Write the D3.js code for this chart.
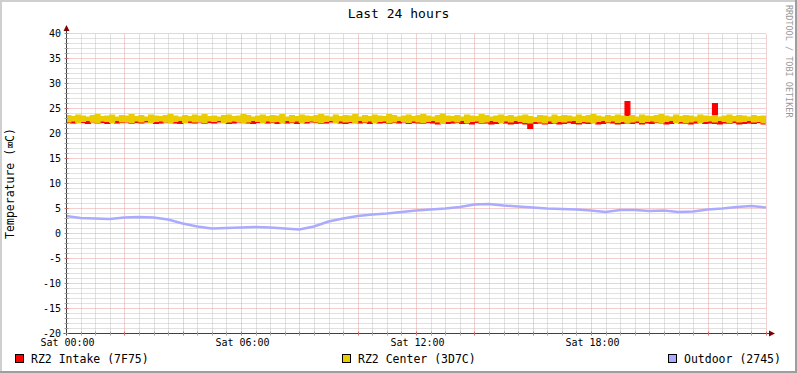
<!DOCTYPE html>
<html>
<head>
<meta charset="utf-8">
<script src="https://cdn.jsdelivr.net/npm/d3@7"></script>
<style>
  body { margin: 0; background: #fff; }
  svg { display: block; font-family: "DejaVu Sans Mono", monospace; }
</style>
</head>
<body>
<div id="chart"></div>
<script>
// min / max of the readings in each 10 minute bucket, Sat 00:00 .. Sun 00:00
const intakeLo = [
  22.2,22.1,22.3,22.2,22.0,22.3,22.1,22.2,22.0,22.3,
  22.1,22.2,22.3,22.0,22.2,22.1,22.3,22.2,22.0,22.1,
  22.3,22.2,22.1,22.0,22.3,22.2,22.1,22.3,22.0,22.2,
  22.1,22.3,22.2,22.0,22.1,22.3,22.2,22.1,22.0,22.2,
  22.3,22.1,22.2,22.0,22.3,22.1,22.2,22.0,22.2,22.1,
  22.3,22.2,22.0,22.1,22.3,22.2,22.1,22.0,22.2,22.3,
  22.1,22.2,22.0,22.3,22.1,22.2,22.0,22.2,22.1,22.3,
  22.0,22.2,22.1,22.0,22.2,22.1,21.9,22.2,22.0,22.1,
  22.2,22.0,22.1,21.9,22.2,22.0,22.1,21.9,22.0,22.2,
  22.1,21.9,22.0,22.1,21.9,21.0,22.0,22.1,21.9,22.0,
  22.1,21.9,22.0,22.2,22.0,21.9,22.1,22.0,22.2,21.9,
  22.0,22.2,22.1,21.9,22.0,22.1,22.0,22.2,21.9,22.1,
  22.0,22.2,22.1,21.9,22.0,22.2,22.1,22.0,21.9,22.1,
  22.2,22.0,22.1,22.0,21.9,22.1,22.0,22.2,21.9,22.0,
  22.1,22.0,22.2,21.9,22.0
];
const intakeHi = [
  22.9,23.0,22.8,23.1,22.9,22.7,23.0,22.8,23.1,22.9,
  23.0,22.8,22.9,23.1,22.7,23.0,22.9,22.8,23.1,23.0,
  22.8,22.9,23.0,23.1,22.8,22.9,22.7,23.0,23.1,22.8,
  23.0,22.9,22.8,23.1,23.0,22.7,22.9,23.0,22.8,23.1,
  22.9,23.0,22.8,23.1,22.9,22.7,23.0,22.8,23.1,22.9,
  22.8,23.0,22.9,23.1,22.7,23.0,22.8,22.9,23.1,23.0,
  22.9,22.8,23.0,23.1,22.9,22.7,23.0,22.8,22.9,23.1,
  22.8,23.0,22.9,22.7,23.0,22.8,23.1,22.9,22.8,23.0,
  22.9,22.7,23.0,22.8,22.9,23.1,22.8,23.0,22.9,22.7,
  23.0,22.8,22.9,23.0,22.8,22.9,23.0,22.7,22.9,23.1,
  22.8,23.0,22.9,22.7,23.0,22.8,22.9,23.1,22.8,23.0,
  22.9,23.0,22.8,23.0,22.9,26.4,22.8,23.0,22.9,22.7,
  23.0,22.8,22.9,23.1,22.8,23.0,22.9,22.8,23.0,22.9,
  22.8,23.0,22.9,26.0,22.8,23.0,22.9,22.7,23.0,22.8,
  22.9,23.0,22.8,22.9,22.7
];
const centerLo = [
  22.3,22.5,22.2,22.4,22.6,22.3,22.1,22.5,22.4,22.2,
  22.6,22.3,22.4,22.1,22.5,22.3,22.6,22.2,22.4,22.5,
  22.3,22.1,22.4,22.6,22.2,22.5,22.3,22.4,22.1,22.5,
  22.4,22.6,22.2,22.3,22.5,22.4,22.1,22.3,22.6,22.4,
  22.2,22.5,22.3,22.4,22.1,22.6,22.3,22.5,22.2,22.4,
  22.5,22.3,22.1,22.4,22.6,22.2,22.5,22.3,22.4,22.1,
  22.6,22.3,22.5,22.2,22.4,22.5,22.1,22.3,22.6,22.4,
  22.2,22.5,22.3,22.1,22.4,22.6,22.3,22.0,22.4,22.5,
  22.3,22.6,22.2,22.4,22.5,22.1,22.3,22.6,22.4,22.2,
  22.5,22.3,22.6,22.4,22.2,22.1,22.4,22.3,22.1,22.5,
  22.2,22.4,22.3,22.5,22.6,22.2,22.4,22.3,22.1,22.4,
  22.6,22.3,22.5,22.2,22.4,22.1,22.3,22.5,22.2,22.4,
  22.5,22.3,22.1,22.4,22.6,22.2,22.4,22.1,22.3,22.5,
  22.2,22.4,22.5,22.3,22.6,22.4,22.1,22.5,22.3,22.4,
  22.6,22.3,22.4,22.1,21.6
];
const centerHi = [
  23.6,23.4,23.7,23.5,23.3,23.6,23.8,23.4,23.5,23.7,
  23.3,23.6,23.5,23.8,23.4,23.6,23.3,23.7,23.5,23.4,
  23.6,23.8,23.5,23.3,23.6,23.4,23.7,23.5,23.8,23.4,
  23.5,23.3,23.6,23.7,23.4,23.5,23.8,23.6,23.3,23.5,
  23.7,23.4,23.6,23.5,23.8,23.3,23.6,23.4,23.7,23.5,
  23.4,23.6,23.8,23.5,23.3,23.7,23.4,23.6,23.5,23.8,
  23.3,23.6,23.4,23.7,23.5,23.4,23.8,23.6,23.3,23.5,
  23.7,23.4,23.6,23.8,23.5,23.3,23.6,23.9,23.5,23.4,
  23.6,23.3,23.7,23.5,23.4,23.8,23.6,23.3,23.5,23.7,
  23.4,23.6,23.3,23.5,23.7,23.4,23.2,23.6,23.5,23.3,
  23.7,23.4,23.6,23.5,23.3,23.7,23.4,23.6,23.8,23.5,
  23.3,23.6,23.4,23.7,23.5,23.4,23.6,23.3,23.7,23.5,
  23.4,23.6,23.8,23.5,23.3,23.7,23.4,23.6,23.5,23.3,
  23.7,23.5,23.4,23.6,23.3,23.5,23.7,23.4,23.6,23.5,
  23.3,23.6,23.4,23.5,22.6
];
// 30 minute samples
const outdoor = [
  3.5,3.1,3.0,2.9,3.2,3.3,3.2,2.8,2.0,1.4,
  1.0,1.1,1.2,1.3,1.2,1.0,0.8,1.4,2.4,3.0,
  3.5,3.8,4.0,4.3,4.6,4.8,5.0,5.3,5.8,5.9,
  5.6,5.4,5.2,5.0,4.9,4.8,4.6,4.3,4.7,4.7,
  4.5,4.6,4.3,4.4,4.8,5.0,5.3,5.5,5.2
];
const seriesNames = ["RZ2 Intake (7F75)", "RZ2 Center (3D7C)", "Outdoor (2745)"];
const seriesColors = ["#ff0000", "#eacc00", "#aaaaff"];
const xLabels = ["Sat 00:00", "Sat 06:00", "Sat 12:00", "Sat 18:00"];
const yMin = -20, yMax = 40;

const W = 797, H = 373;
const svg = d3.select("#chart").append("svg")
  .attr("width", W).attr("height", H);

svg.append("rect").attr("width", W).attr("height", H).attr("fill", "#fff");
// 3d frame
svg.append("path").attr("d", `M0,${H} V0 H${W}`).attr("fill", "none")
  .attr("stroke", "#cfcfcf").attr("stroke-width", 4);
svg.append("path").attr("d", `M0,${H} H${W} V0`).attr("fill", "none")
  .attr("stroke", "#9e9e9e").attr("stroke-width", 4);

const x = d3.scaleLinear().domain([0, 24]).range([66, 766]);
const y = d3.scaleLinear().domain([yMin, yMax]).range([333.5, 33.5]);
const px = h => Math.round(x(h)) + 0.5;

const grid = svg.append("g").attr("stroke-dasharray", "1,1");
// minor grid
d3.range(0.5, 24.01, 0.5).filter(h => h % 2 !== 0).forEach(h => {
  grid.append("line").attr("x1", px(h)).attr("x2", px(h)).attr("y1", y(yMin)).attr("y2", y(yMax))
    .attr("stroke", "#c2c2c2");
});
y.ticks(60).filter(v => v % 5 !== 0).forEach(v => {
  grid.append("line").attr("x1", px(0)).attr("x2", px(24)).attr("y1", y(v)).attr("y2", y(v))
    .attr("stroke", "#c2c2c2");
});
// major grid
d3.range(2, 24.01, 2).forEach(h => {
  grid.append("line").attr("x1", px(h)).attr("x2", px(h)).attr("y1", y(yMin)).attr("y2", y(yMax))
    .attr("stroke", "#e6a0a0");
});
y.ticks(12).forEach(v => {
  grid.append("line").attr("x1", px(0)).attr("x2", px(24)).attr("y1", y(v)).attr("y2", y(v))
    .attr("stroke", "#e6a0a0");
});

// y labels
svg.append("g").selectAll("text").data(y.ticks(12)).join("text")
  .attr("x", 61).attr("y", d => y(d)).attr("dy", "0.33em")
  .attr("text-anchor", "end").attr("font-size", 10).text(d => d);

// x labels
svg.append("g").selectAll("text").data(xLabels).join("text")
  .attr("x", (d, i) => x(i * 6) + 1.5).attr("y", 346)
  .attr("text-anchor", "middle").attr("font-size", 10).text(d => d);

// data
svg.append("clipPath").attr("id", "clip").append("rect")
  .attr("x", x(0)).attr("y", y(yMax) - 2).attr("width", x(24) - x(0)).attr("height", y(yMin) - y(yMax) + 2);

const dt = 1 / 6;
const band = d3.area().curve(d3.curveStepAfter)
  .x(d => x(d.t)).y0(d => y(d.lo)).y1(d => y(d.hi));
const plot = svg.append("g").attr("clip-path", "url(#clip)");
[[intakeLo, intakeHi], [centerLo, centerHi]].forEach(([lo, hi], i) => {
  const pts = lo.map((v, k) => ({ t: k * dt, lo: v, hi: hi[k] }));
  pts.push({ t: 24, lo: lo[lo.length - 1], hi: hi[hi.length - 1] });
  plot.append("path").attr("d", band(pts)).attr("fill", seriesColors[i])
    .attr("stroke", seriesColors[i]).attr("stroke-width", 1.2);
});
const line = d3.line().x((d, k) => x(k * 0.5)).y(d => y(d));
plot.append("path").attr("d", line(outdoor)).attr("fill", "none")
  .attr("stroke", seriesColors[2]).attr("stroke-width", 2.4);

// axes
const axis = svg.append("g").attr("stroke", "#404040");
axis.append("line").attr("x1", px(0)).attr("x2", px(0)).attr("y1", y(yMin) + 2).attr("y2", 29);
axis.append("line").attr("x1", px(0) - 3).attr("x2", 770).attr("y1", y(yMin)).attr("y2", y(yMin));
svg.append("path").attr("d", `M${px(0) - 3},31 L${px(0)},25 L${px(0) + 3},31 Z`).attr("fill", "#7f0000");
svg.append("path").attr("d", `M769,${y(yMin) - 3} L775,${y(yMin)} L769,${y(yMin) + 3} Z`).attr("fill", "#7f0000");
// axis ticks
y.ticks(60).forEach(v => {
  svg.append("line").attr("x1", px(0) - 2).attr("x2", px(0) + 2).attr("y1", y(v)).attr("y2", y(v))
    .attr("stroke", v % 5 === 0 ? "#d07070" : "#a0a0a0");
});
d3.range(0.5, 24.01, 0.5).forEach(h => {
  svg.append("line").attr("x1", px(h)).attr("x2", px(h)).attr("y1", y(yMin) - 2).attr("y2", y(yMin) + 2)
    .attr("stroke", h % 2 === 0 ? "#d07070" : "#a0a0a0");
});

// title
svg.append("text").attr("x", 398.5).attr("y", 18).attr("text-anchor", "middle")
  .attr("font-size", 13).text("Last 24 hours");

// y axis title
svg.append("text").attr("transform", `translate(14,${y(10)}) rotate(-90)`)
  .attr("text-anchor", "middle").attr("font-size", 11.5).text("Temperature (\u2327C)");

// watermark
svg.append("text").attr("transform", "translate(786,5) rotate(90)")
  .attr("font-size", 8.5).attr("fill", "#999").text("RRDTOOL / TOBI OETIKER");

// legend
const legendX = [15, 342, 668];
const legend = svg.append("g").selectAll("g").data(seriesNames).join("g")
  .attr("transform", (d, i) => `translate(${legendX[i]},354)`);
legend.append("rect").attr("x", 0.5).attr("y", 0.5).attr("width", 8).attr("height", 8)
  .attr("fill", (d, i) => seriesColors[i]).attr("stroke", "#000");
legend.append("text").attr("x", 16).attr("y", 9).attr("font-size", 11.5).text(d => d);
</script>
</body>
</html>
